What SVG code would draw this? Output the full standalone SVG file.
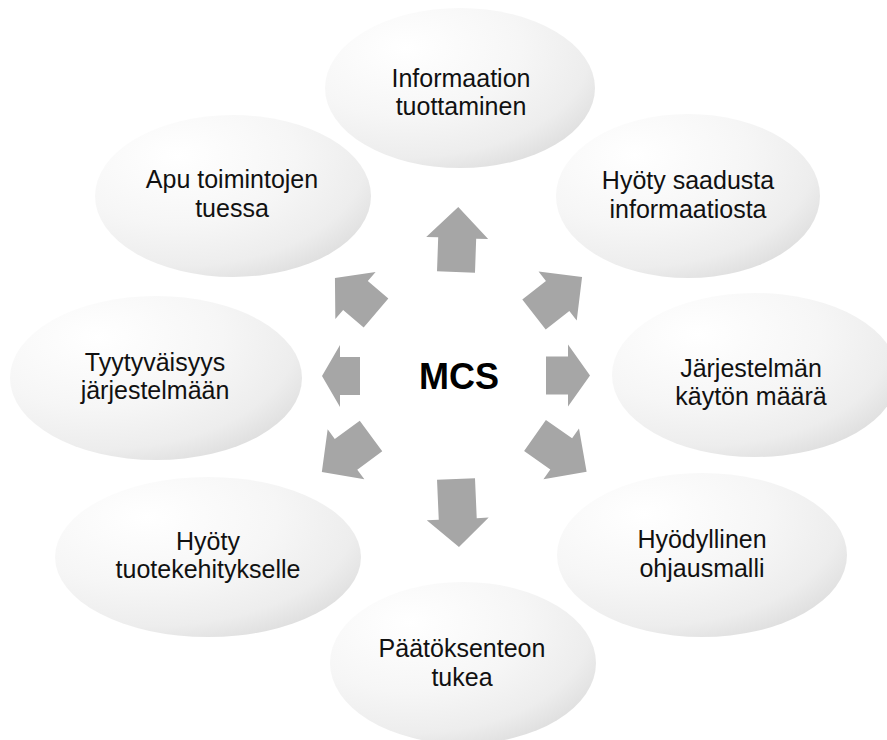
<svg xmlns="http://www.w3.org/2000/svg" width="887" height="740" viewBox="0 0 887 740">
<defs>
<radialGradient id="g" cx="0.3" cy="0.25" r="0.95" fx="0.3" fy="0.25">
<stop offset="0" stop-color="#ffffff"/>
<stop offset="0.45" stop-color="#f6f6f6"/>
<stop offset="0.72" stop-color="#ededed"/>
<stop offset="0.88" stop-color="#dedede"/>
<stop offset="1" stop-color="#d2d2d2"/>
</radialGradient>
</defs>
<style>
.e{fill:url(#g);}
.t{font-family:"Liberation Sans",Arial,sans-serif;font-size:25px;fill:#111;text-anchor:middle;}
.m{font-family:"Liberation Sans",Arial,sans-serif;font-size:36px;font-weight:bold;fill:#000;text-anchor:middle;}
.a{fill:#a6a6a6;}
</style>
<rect width="887" height="740" fill="#fff"/>
<g id="n1"><ellipse class="e" cx="460" cy="88" rx="135" ry="80"/><text class="t" x="461" y="87">Informaation</text><text class="t" x="461" y="115">tuottaminen</text></g>
<g id="n2"><ellipse class="e" cx="688" cy="196" rx="132" ry="82"/><text class="t" x="688" y="189">Hyöty saadusta</text><text class="t" x="688" y="218">informaatiosta</text></g>
<g id="n3"><ellipse class="e" cx="755" cy="375" rx="143" ry="82"/><text class="t" x="751" y="377">Järjestelmän</text><text class="t" x="751" y="405">käytön määrä</text></g>
<g id="n4"><ellipse class="e" cx="702" cy="555" rx="145" ry="82"/><text class="t" x="702" y="548">Hyödyllinen</text><text class="t" x="702" y="577">ohjausmalli</text></g>
<g id="n5"><ellipse class="e" cx="463" cy="663" rx="133" ry="81"/><text class="t" x="462" y="657">Päätöksenteon</text><text class="t" x="462" y="686">tukea</text></g>
<g id="n6"><ellipse class="e" cx="208" cy="557" rx="153" ry="80"/><text class="t" x="208" y="550">Hyöty</text><text class="t" x="208" y="578">tuotekehitykselle</text></g>
<g id="n7"><ellipse class="e" cx="156" cy="378" rx="146" ry="82"/><text class="t" x="155" y="371">Tyytyväisyys</text><text class="t" x="155" y="399">järjestelmään</text></g>
<g id="n8"><ellipse class="e" cx="233" cy="196" rx="138" ry="81"/><text class="t" x="232" y="188">Apu toimintojen</text><text class="t" x="232" y="217">tuessa</text></g>
<g id="center"><text class="m" x="459" y="389">MCS</text></g>
<g id="connectors">
<polygon class="a" transform="translate(456,272) rotate(-88)" points="0,-19 34,-19 34,-31 65,0 34,31 34,19 0,19"/>
<polygon class="a" transform="translate(534,314.5) rotate(-38)" points="0,-19 30,-19 30,-31 61,0 30,31 30,19 0,19"/>
<polygon class="a" transform="translate(546,375.5)" points="0,-19 22,-19 22,-31 44,0 22,31 22,19 0,19"/>
<polygon class="a" transform="translate(535,435.5) rotate(35)" points="0,-19 32,-19 32,-31 63,0 32,31 32,19 0,19"/>
<polygon class="a" transform="translate(456,479) rotate(87.5)" points="0,-19 40,-19 40,-31 68,0 40,31 40,19 0,19"/>
<polygon class="a" transform="translate(371,436) rotate(143.7)" points="0,-19 31,-19 31,-31 61,0 31,31 31,19 0,19"/>
<polygon class="a" transform="translate(360,376) rotate(180)" points="0,-19 20,-19 20,-31 38,0 20,31 20,19 0,19"/>
<polygon class="a" transform="translate(376,313) rotate(-139.5)" points="0,-19 27,-19 27,-31 54,0 27,31 27,19 0,19"/>
</g>
</svg>
